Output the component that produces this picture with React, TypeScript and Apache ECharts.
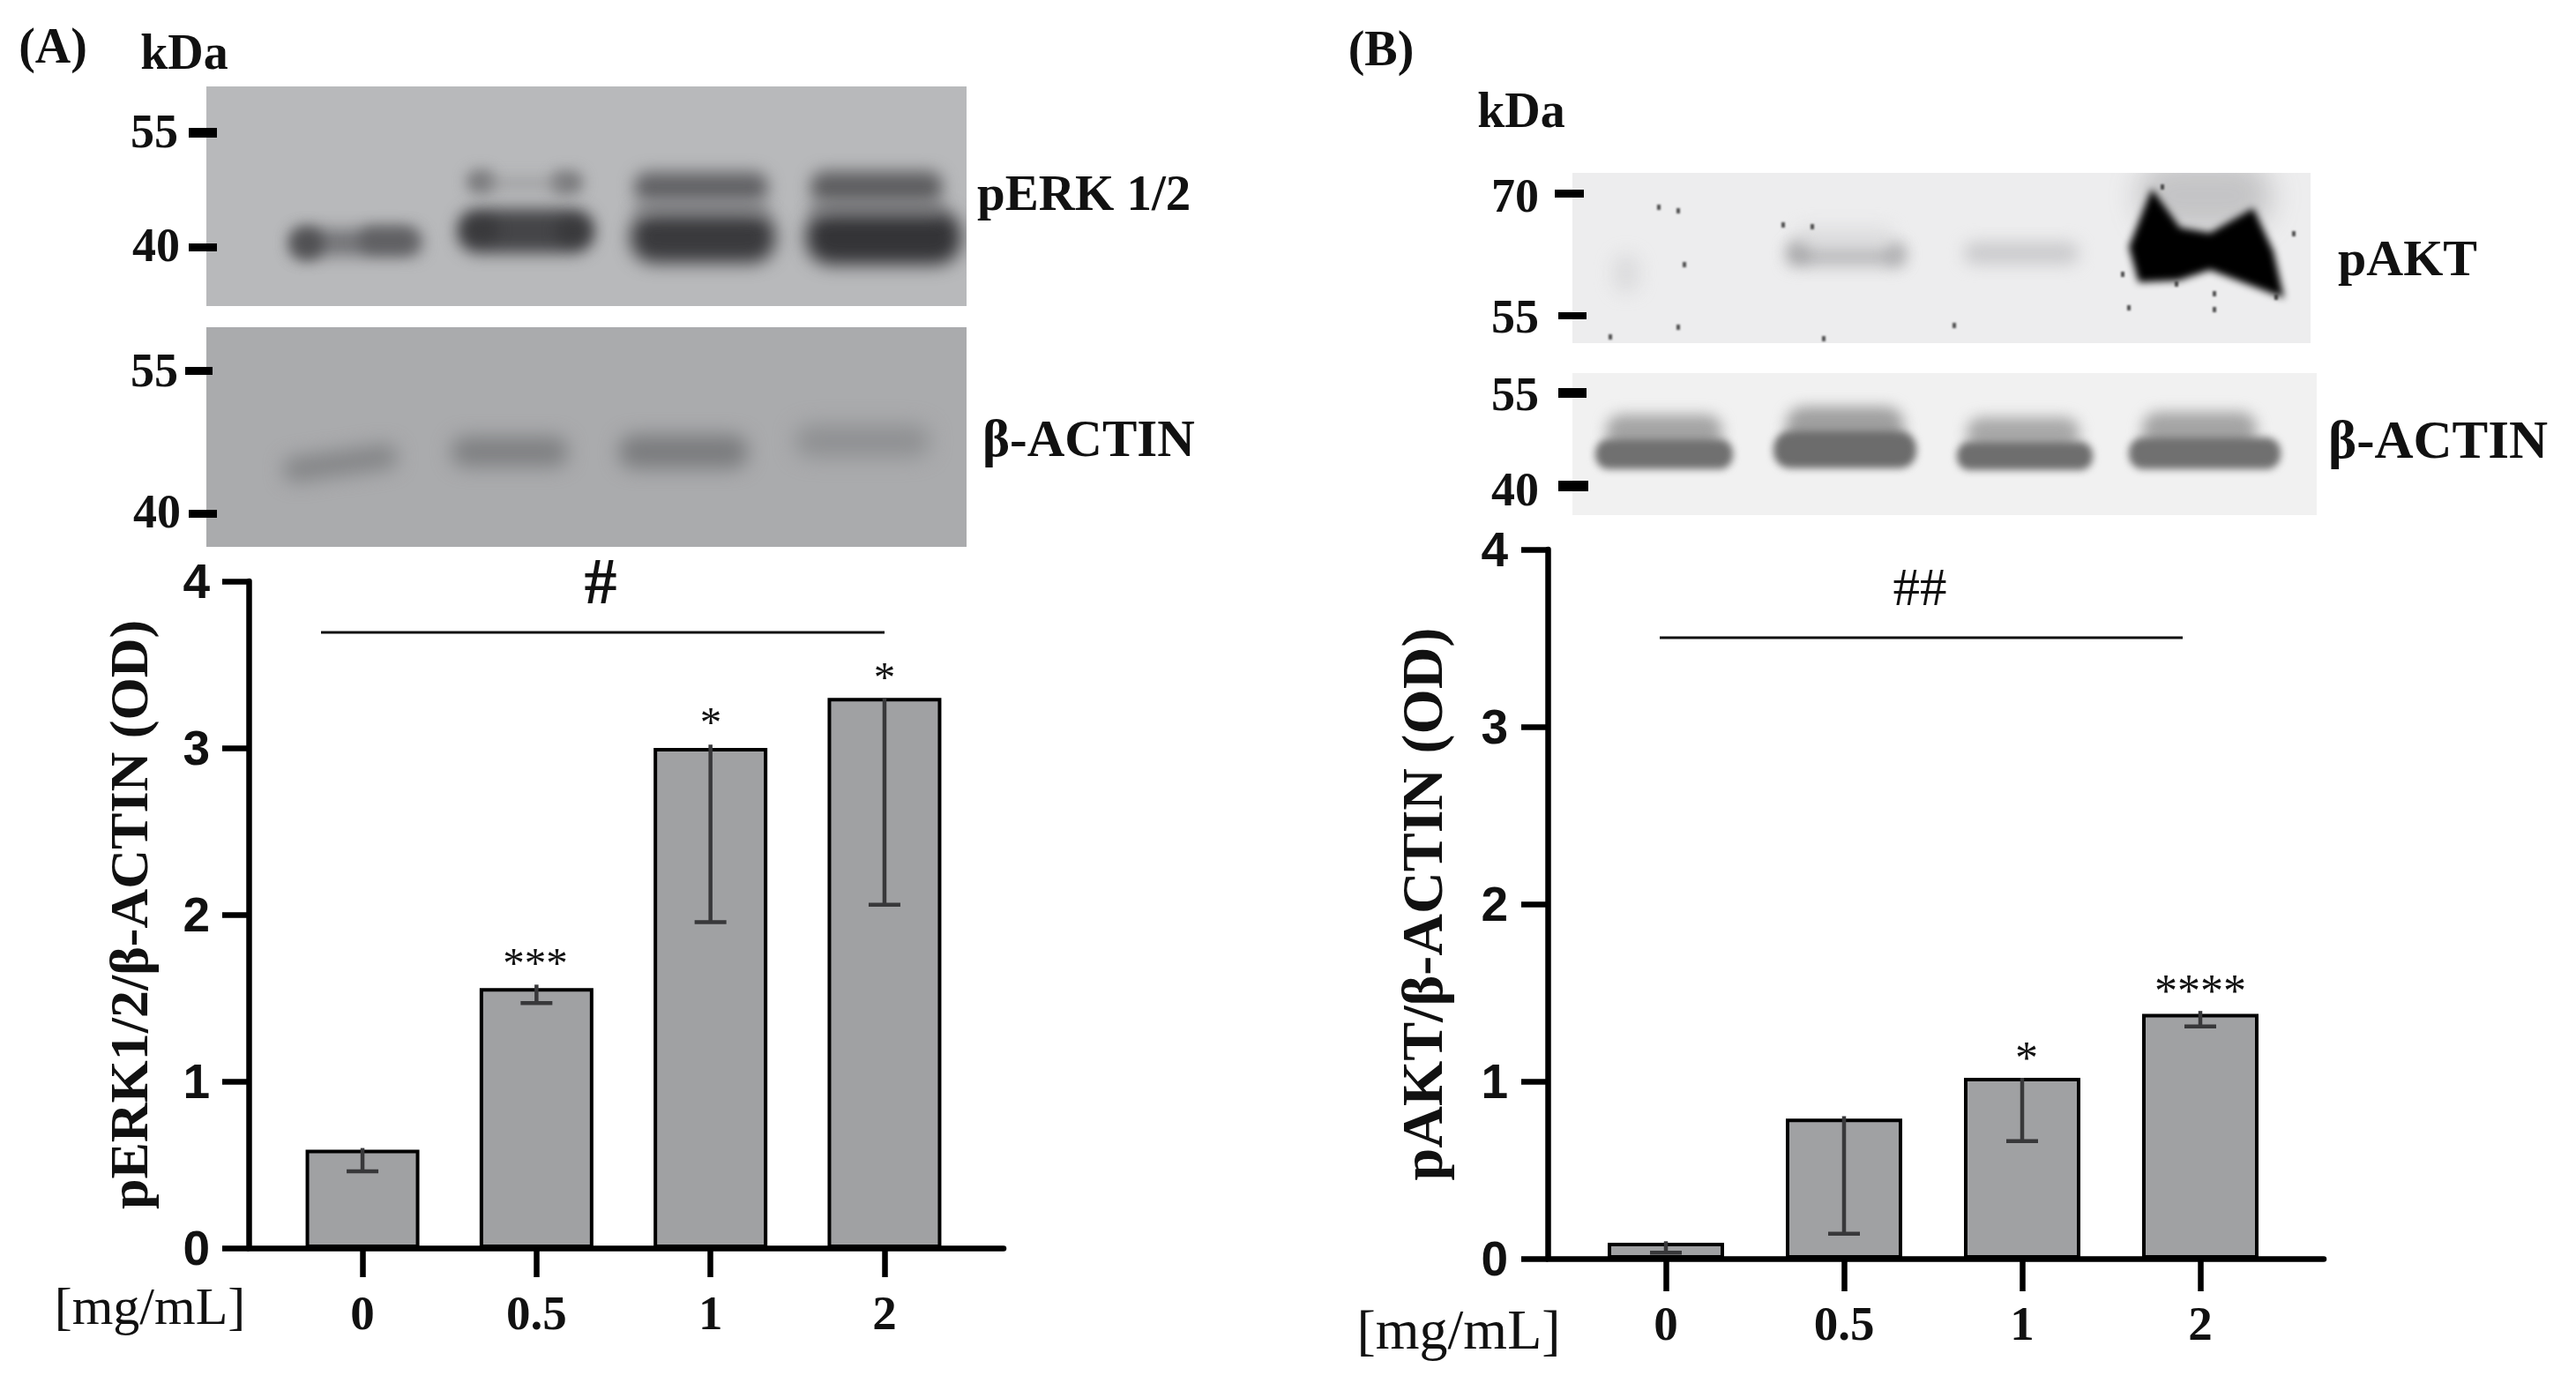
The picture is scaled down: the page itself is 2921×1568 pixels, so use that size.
import React, { useEffect, useRef } from "react";
import * as echarts from "echarts";

const doses = ["0", "0.5", "1", "2"];
const yTicks = [0, 1, 2, 3, 4];
const erkMeans = [0.59, 1.56, 3.0, 3.3];
const erkLow = [0.46, 1.47, 1.955, 2.06];
const erkHigh = [0.6, 1.58, 3.02, 3.3];
const aktMeans = [0.09, 0.79, 1.02, 1.38];
const aktLow = [0.034, 0.14, 0.663, 1.31];
const aktHigh = [0.098, 0.804, 1.02, 1.397];

const SERIF = '"Liberation Serif"';
const SANS = '"Liberation Sans"';

// [cx, cy, w, h, colour, blur, rotation]
type Band = [number, number, number, number, string, number, number?];

const blotA1Bands: Band[] = [
  [404, 275, 150, 30, "rgba(105,105,108,.85)", 9],
  [348, 276, 38, 38, "rgba(70,70,72,.8)", 8],
  [440, 272, 66, 32, "rgba(85,85,88,.7)", 8],
  [596, 262, 154, 50, "rgba(62,62,65,.95)", 9],
  [545, 260, 40, 30, "rgba(45,45,48,.5)", 8],
  [650, 262, 40, 30, "rgba(45,45,48,.5)", 8],
  [545, 206, 32, 26, "rgba(105,105,108,.8)", 8],
  [643, 207, 36, 26, "rgba(105,105,108,.8)", 8],
  [595, 208, 100, 14, "rgba(140,140,142,.5)", 8],
  [797, 269, 164, 58, "rgba(58,58,61,1)", 10],
  [795, 212, 152, 34, "rgba(90,90,93,.9)", 9],
  [795, 238, 150, 16, "rgba(120,120,123,.7)", 9],
  [1002, 269, 176, 62, "rgba(52,52,55,1)", 10],
  [994, 212, 150, 36, "rgba(85,85,88,.9)", 9],
  [994, 238, 150, 18, "rgba(115,115,118,.7)", 9],
];
const blotA2Bands: Band[] = [
  [386, 525, 130, 28, "rgba(128,129,131,.9)", 11, -0.14],
  [578, 512, 132, 34, "rgba(122,123,125,.9)", 11],
  [775, 512, 146, 38, "rgba(118,119,121,.9)", 11],
  [978, 500, 152, 36, "rgba(140,141,143,.9)", 12],
];
const blotB1Bands: Band[] = [
  [1844, 310, 30, 44, "rgba(190,190,192,.35)", 10],
  [2092, 290, 132, 24, "rgba(175,175,177,.8)", 9],
  [2040, 285, 26, 28, "rgba(150,150,152,.55)", 8],
  [2150, 288, 24, 28, "rgba(160,160,162,.55)", 8],
  [2092, 268, 110, 24, "rgba(215,215,217,.6)", 9],
  [2292, 287, 130, 26, "rgba(195,195,197,.8)", 9],
  [2500, 222, 150, 80, "rgba(120,120,122,.35)", 16],
];
const blotB1Polygon = [[2440, 214], [2472, 258], [2506, 264], [2555, 236], [2578, 285], [2590, 338], [2506, 306], [2470, 318], [2425, 320], [2414, 280]];
const blotB1Specks = [[1826, 382], [2068, 384], [1910, 300], [1903, 239], [2055, 257], [2511, 333], [2511, 351], [2581, 337], [2414, 349], [1903, 371], [2216, 369], [2601, 265], [2468, 322], [1881, 235], [2022, 255], [2407, 311], [2452, 212]];
const blotB2Bands: Band[] = [
  [1887, 490, 132, 40, "rgba(150,150,150,.85)", 8],
  [2092, 484, 134, 46, "rgba(145,145,145,.85)", 8],
  [2294, 492, 128, 38, "rgba(155,155,155,.85)", 8],
  [2494, 488, 130, 42, "rgba(150,150,150,.85)", 8],
  [1887, 515, 156, 34, "rgba(112,112,112,1)", 4],
  [2092, 510, 162, 42, "rgba(108,108,108,1)", 4],
  [2296, 517, 154, 32, "rgba(110,110,110,1)", 4],
  [2500, 514, 172, 36, "rgba(112,112,112,1)", 4],
];

function ellipse(ctx: CanvasRenderingContext2D, b: Band, ox: number, oy: number) {
  ctx.filter = `blur(${b[5]}px)`;
  ctx.fillStyle = b[4];
  ctx.setTransform(1, 0, 0, 1, 0, 0);
  ctx.beginPath();
  ctx.translate(b[0] - ox, b[1] - oy);
  if (b[6]) ctx.rotate(b[6]);
  ctx.roundRect(-b[2] / 2, -b[3] / 2, b[2], b[3], Math.min(b[2], b[3]) / 2.2);
  ctx.fill();
  ctx.setTransform(1, 0, 0, 1, 0, 0);
}

function blot(x: number, y: number, w: number, h: number, bg: string, bands: Band[], extra?: (c: CanvasRenderingContext2D) => void) {
  const canvas = document.createElement("canvas");
  canvas.width = w;
  canvas.height = h;
  const ctx = canvas.getContext("2d")!;
  ctx.fillStyle = bg;
  ctx.fillRect(0, 0, w, h);
  bands.forEach((b) => ellipse(ctx, b, x, y));
  if (extra) extra(ctx);
  return { type: "image", silent: true, style: { image: canvas.toDataURL("image/png"), x, y, width: w, height: h } };
}

function txt(text: string, x: number, y: number, size: number, opts: { weight?: string; family?: string; align?: string } = {}) {
  return {
    type: "text",
    silent: true,
    z: 20,
    style: {
      text,
      x,
      y,
      fill: "#111",
      font: `${opts.weight ?? "bold"} ${size}px ${opts.family ?? SERIF}`,
      textAlign: opts.align ?? "center",
      textVerticalAlign: "middle",
    },
  };
}

function mark(x: number, y: number, w: number, h: number) {
  return { type: "rect", silent: true, shape: { x, y, width: w, height: h }, style: { fill: "#000" } };
}

function bracket(x1: number, x2: number, y: number) {
  return { type: "line", silent: true, z: 20, shape: { x1, y1: y, x2, y2: y }, style: { stroke: "#111", lineWidth: 3 } };
}

function errorSeries(low: number[], high: number[], gridAxis: number) {
  return {
    type: "custom",
    xAxisIndex: gridAxis,
    yAxisIndex: gridAxis,
    z: 10,
    data: low.map((l, i) => [i, l, high[i]]),
    encode: { x: 0, y: [1, 2] },
    renderItem: (_: unknown, api: any) => {
      const a = api.coord([api.value(0), api.value(1)]);
      const b = api.coord([api.value(0), api.value(2)]);
      const s = { stroke: "#38383a", lineWidth: 4.5 };
      return {
        type: "group",
        children: [
          { type: "line", shape: { x1: a[0], y1: a[1], x2: b[0], y2: b[1] }, style: s },
          { type: "line", shape: { x1: a[0] - 18, y1: a[1], x2: a[0] + 18, y2: a[1] }, style: s },
        ],
      };
    },
  };
}

function frameAxes(margin: number) {
  return {
    x: {
      type: "value", min: 0, max: 1, axisLabel: { show: false }, axisTick: { show: false }, splitLine: { show: false },
      axisLine: { show: true, onZero: false, lineStyle: { color: "#000", width: 6.5 } },
    },
    y: {
      type: "value", min: yTicks[0], max: yTicks[yTicks.length - 1], interval: 1, splitLine: { show: false },
      axisLine: { show: true, lineStyle: { color: "#000", width: 6.5 } },
      axisTick: { show: true, length: 30, lineStyle: { color: "#000", width: 6.5 } },
      axisLabel: { fontFamily: SANS, fontWeight: "bold", fontSize: 55, color: "#111", margin },
      nameLocation: "middle",
      nameTextStyle: { fontFamily: SERIF, fontWeight: "bold", color: "#111" },
    },
  };
}

function barAxes(tick: number, margin: number) {
  return {
    x: {
      type: "category", data: doses, axisLine: { show: false },
      axisTick: { show: true, alignWithLabel: true, length: tick, lineStyle: { color: "#000", width: 6.5 } },
      axisLabel: { fontFamily: SERIF, fontWeight: "bold", fontSize: 55, color: "#111", margin },
    },
    y: { type: "value", show: false, min: 0, max: 4 },
  };
}

export default function App() {
  const ref = useRef<HTMLDivElement>(null);
  useEffect(() => {
    document.body.style.margin = "0";
    document.body.style.background = "#fff";
    const chart = echarts.init(ref.current!, undefined, { renderer: "svg" });
    const fA = frameAxes(44);
    const fB = frameAxes(45);
    const bA = barAxes(33, 46);
    const bB = barAxes(37, 46);
    const barStyle = { color: "#a0a1a3", borderColor: "#000", borderWidth: 4 };
    chart.setOption({
      animation: false,
      backgroundColor: "#fff",
      grid: [
        { left: 282, top: 659, width: 856, height: 756 },
        { left: 312.4, top: 659, width: 789.2, height: 756 },
        { left: 1755, top: 623, width: 880, height: 804 },
        { left: 1788, top: 623, width: 808, height: 804 },
      ],
      xAxis: [
        { ...fA.x, gridIndex: 0 },
        { ...bA.x, gridIndex: 1 },
        { ...fB.x, gridIndex: 2 },
        { ...bB.x, gridIndex: 3 },
      ],
      yAxis: [
        { ...fA.y, gridIndex: 0, name: "pERK1/2/β-ACTIN (OD)", nameGap: 105, nameTextStyle: { ...fA.y.nameTextStyle, fontSize: 62 } },
        { ...bA.y, gridIndex: 1 },
        { ...fB.y, gridIndex: 2, name: "pAKT/β-ACTIN (OD)", nameGap: 110, nameTextStyle: { ...fB.y.nameTextStyle, fontSize: 66 } },
        { ...bB.y, gridIndex: 3 },
      ],
      series: [
        { type: "bar", xAxisIndex: 1, yAxisIndex: 1, data: erkMeans, barWidth: 129, itemStyle: barStyle, z: 5 },
        errorSeries(erkLow, erkHigh, 1),
        { type: "bar", xAxisIndex: 3, yAxisIndex: 3, data: aktMeans, barWidth: 132, itemStyle: barStyle, z: 5 },
        errorSeries(aktLow, aktHigh, 3),
      ],
      graphic: [
        blot(234, 98, 862, 249, "#b8b9bb", blotA1Bands),
        blot(234, 371, 862, 249, "#aaabad", blotA2Bands),
        blot(1783, 196, 837, 193, "#ededee", blotB1Bands, (c) => {
          c.filter = "blur(4px)";
          c.fillStyle = "#000";
          c.beginPath();
          blotB1Polygon.forEach((p, i) => (i ? c.lineTo(p[0] - 1783, p[1] - 196) : c.moveTo(p[0] - 1783, p[1] - 196)));
          c.closePath();
          c.fill();
          c.filter = "blur(1px)";
          c.fillStyle = "rgba(40,40,40,.8)";
          blotB1Specks.forEach((p) => c.fillRect(p[0] - 1785, p[1] - 199, 4, 6));
          c.filter = "none";
        }),
        blot(1783, 423, 844, 161, "#f1f1f1", blotB2Bands),
        mark(214, 145, 32, 11), mark(214, 276, 32, 9), mark(210, 416, 31, 9), mark(214, 578, 32, 9),
        mark(1763, 215, 33, 9), mark(1767, 354, 32, 8), mark(1767, 440, 32, 11), mark(1767, 545, 34, 12),
        txt("(A)", 60, 52, 56), txt("kDa", 209, 59, 56),
        txt("55", 175, 149, 54), txt("40", 177, 278, 54), txt("55", 175, 420, 54), txt("40", 178, 580, 54),
        txt("pERK 1/2", 1108, 218, 57, { align: "left" }), txt("β-ACTIN", 1114, 497, 59, { align: "left" }),
        txt("(B)", 1566, 55, 56), txt("kDa", 1725, 125, 56),
        txt("70", 1718, 222, 54), txt("55", 1718, 359, 54), txt("55", 1718, 447, 54), txt("40", 1718, 555, 54),
        txt("pAKT", 2651, 292, 58, { align: "left" }), txt("β-ACTIN", 2640, 498, 61, { align: "left" }),
        txt("[mg/mL]", 170, 1481, 60, { weight: "normal" }), txt("[mg/mL]", 1654, 1507, 64, { weight: "normal" }),
        txt("#", 681, 659, 74), txt("##", 2177, 665, 61, { weight: "normal" }),
        bracket(364, 1003, 717), bracket(1882, 2475, 723),
        txt("*", 1003, 767, 49, { weight: "normal" }), txt("*", 806, 818, 49, { weight: "normal" }), txt("***", 607, 1091, 49, { weight: "normal" }),
        txt("*", 2298, 1199, 52, { weight: "normal" }), txt("****", 2495, 1123, 52, { weight: "normal" }),
      ],
    });
    return () => chart.dispose();
  }, []);
  return <div ref={ref} style={{ width: 2921, height: 1568 }} />;
}
